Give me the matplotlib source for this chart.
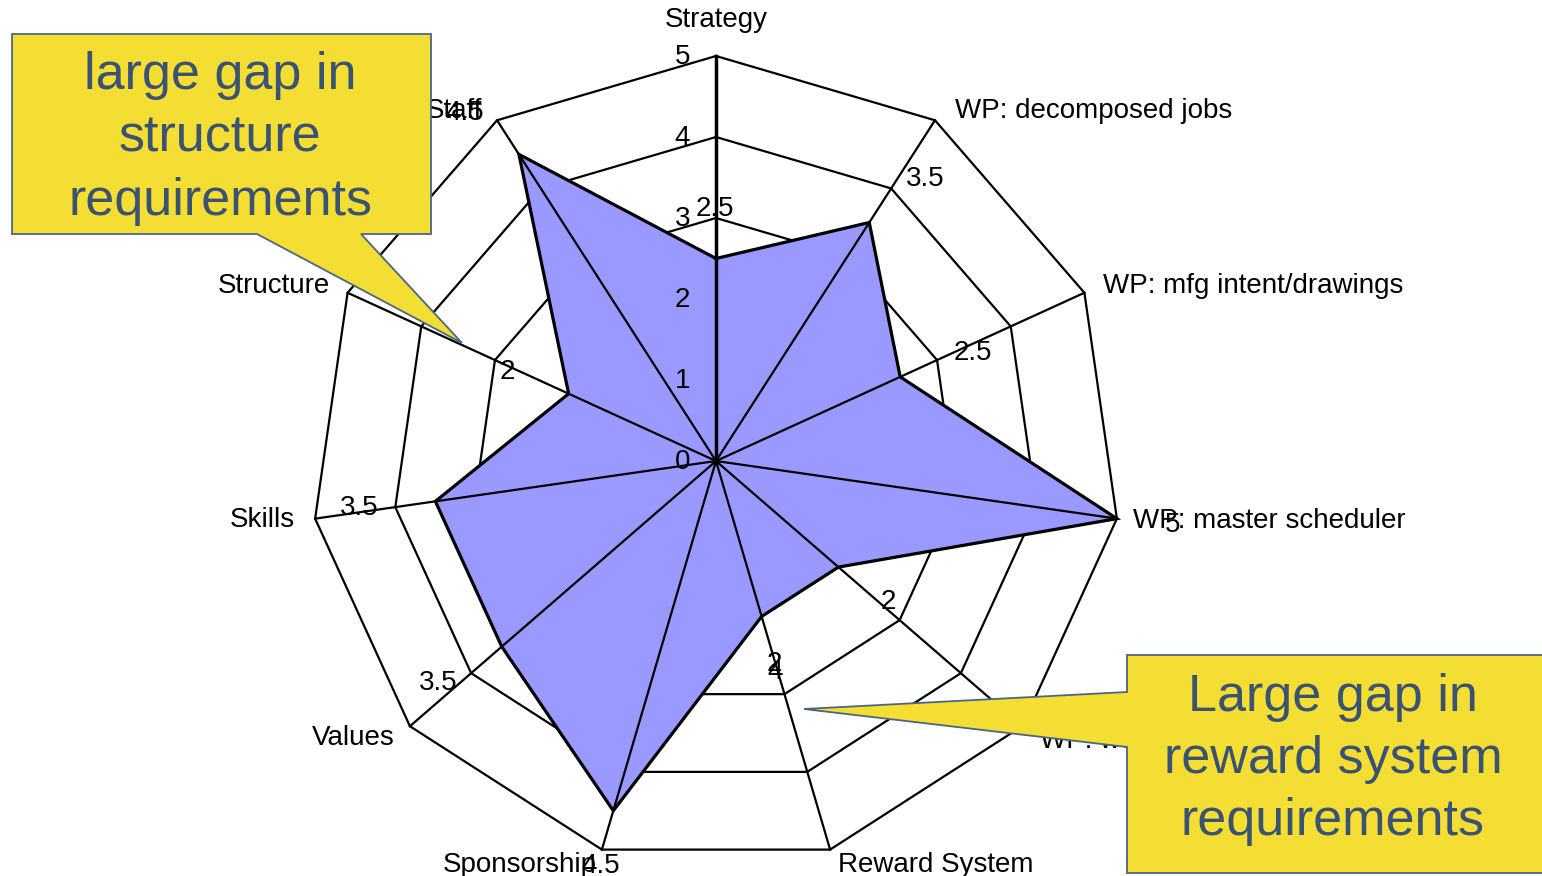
import numpy as np
import matplotlib
matplotlib.use("Agg")
import matplotlib.pyplot as plt
from matplotlib.patches import Polygon

plt.rcParams['font.family'] = ['Liberation Sans', 'DejaVu Sans']

# ---- chart data -------------------------------------------------------
categories = ["Strategy", "WP: decomposed jobs", "WP: mfg intent/drawings",
              "WP: master scheduler", "WP: work orders", "Reward System",
              "Sponsorship", "Values", "Skills", "Structure", "Staff"]
scores = [2.5, 3.5, 2.5, 5, 2, 2, 4.5, 3.5, 3.5, 2, 4.5]
scale_ticks = [0, 1, 2, 3, 4, 5]
extra_reward_label = "4"
callout_left = ["large gap in", "structure", "requirements"]
callout_right = ["Large gap in", "reward system", "requirements"]

# ---- layout -----------------------------------------------------------
W, H = 1542, 876
CX, CY, RAD = 716, 461, 405          # centre and outer radius in pixels
RMAX = scale_ticks[-1]

FONT = 20
PURPLE = '#9999ff'
YELLOW = '#f5de33'
CALLOUT_EDGE = '#4b6584'
CALLOUT_TEXT = '#3b5372'

fig = plt.figure(figsize=(W / 100, H / 100), dpi=100)
ax = fig.add_axes([(CX - RAD) / W, (H - CY - RAD) / H, 2 * RAD / W, 2 * RAD / H],
                  projection='polar')
ax.set_theta_zero_location('N')
ax.set_theta_direction(-1)
ax.set_ylim(0, RMAX)
ax.set_axis_off()

n = len(categories)
theta = np.arange(n) * 2 * np.pi / n
theta_c = np.append(theta, theta[0])

# web rings
for lev in scale_ticks[1:]:
    ax.plot(theta_c, [lev] * (n + 1), color='black', lw=1.6, zorder=1,
            clip_on=False, solid_joinstyle='miter')

# filled score polygon
sc = np.append(scores, scores[0])
ax.fill(theta_c, sc, facecolor=PURPLE, edgecolor='none', zorder=2)
ax.plot(theta_c, sc, color='black', lw=2.3, zorder=3, clip_on=False,
        solid_joinstyle='miter')

# spokes
for i, t in enumerate(theta):
    ax.plot([t, t], [0, RMAX], color='black', lw=2.5 if i == 0 else 1.6,
            zorder=4, clip_on=False)

# scale labels along the first spoke
for v in scale_ticks:
    ax.annotate(f"{v:g}", xy=(0, v), xytext=(-26, -8), textcoords='offset pixels',
                ha='right', va='baseline', fontsize=FONT, zorder=5,
                annotation_clip=False)

# score labels next to each polygon vertex (dx, dy-down in pixels)
score_offsets = [(-1, -42), (56, -37), (73, -17), (56, 13), (50, 42), (13, 55),
                 (-13, 62), (-64, 43), (-76, 14), (-61, -15), (-54, -34)]
for t, v, (dx, dy) in zip(theta, scores, score_offsets):
    ax.annotate(f"{v:g}", xy=(t, v), xytext=(dx, -dy), textcoords='offset pixels',
                ha='center', va='baseline', fontsize=FONT, zorder=5,
                annotation_clip=False)
ax.annotate(extra_reward_label, xy=(theta[5], scores[5]), xytext=(13, -63),
            textcoords='offset pixels', ha='center', va='baseline',
            fontsize=FONT, zorder=5, annotation_clip=False)

# category names around the outside
name_place = [('center', 0, -29), ('left', 20, -2), ('left', 19, 0),
              ('left', 16, 9), ('left', 18, 22), ('left', 8, 22),
              ('right', -5, 22), ('right', -15, 19), ('right', -20, 8),
              ('right', -18, 0), ('right', -15, -2)]
for t, name, (ha, dx, dy) in zip(theta, categories, name_place):
    ax.annotate(name, xy=(t, RMAX), xytext=(dx, -dy), textcoords='offset pixels',
                ha=ha, va='baseline', fontsize=FONT, zorder=5,
                annotation_clip=False)

# ---- callouts (pixel coordinates) ------------------------------------
ov = fig.add_axes([0, 0, 1, 1])
ov.set_xlim(0, W)
ov.set_ylim(H, 0)
ov.set_axis_off()
ov.set_zorder(10)

left_shape = [(12, 34), (431, 34), (431, 234), (361, 234), (462, 343),
              (257, 234), (12, 234)]
right_shape = [(1127, 655), (1546, 655), (1546, 873), (1127, 873),
               (1127, 747), (804, 709), (1127, 692)]
for shape in (left_shape, right_shape):
    ov.add_patch(Polygon(shape, closed=True, facecolor=YELLOW,
                         edgecolor=CALLOUT_EDGE, lw=1.3, joinstyle='miter'))

for line, base in zip(callout_left, [89, 152, 215]):
    ov.text(220, base, line, ha='center', va='baseline', fontsize=37.5,
            color=CALLOUT_TEXT)
for line, base in zip(callout_right, [711, 773, 835]):
    ov.text(1333, base, line, ha='center', va='baseline', fontsize=37.5,
            color=CALLOUT_TEXT)

fig.savefig('out.png', dpi=100)
